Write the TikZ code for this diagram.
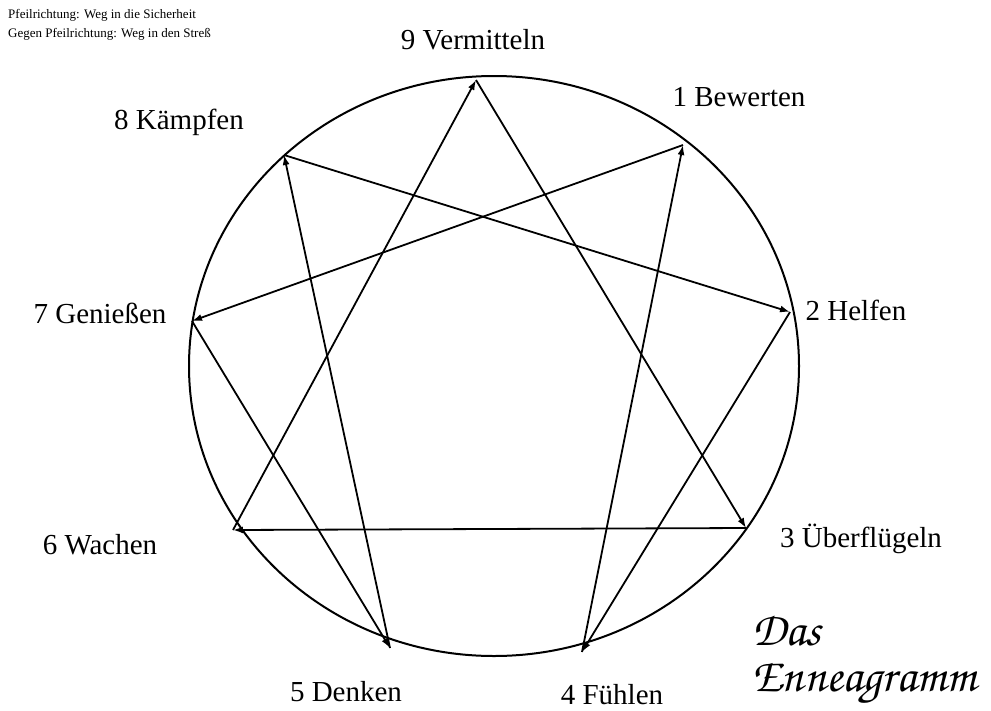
\documentclass[tikz,border=0pt]{standalone}
\usepackage{fontspec}
\setmainfont{Liberation Serif}
\usetikzlibrary{arrows.meta}
\tikzset{
  en_lbl/.style={font=\fontsize{29}{32}\selectfont, inner sep=0pt},
  en_note/.style={font=\fontsize{13}{15}\selectfont, anchor=west, inner sep=0pt},
  en_title/.style={font=\usefont{T1}{pzc}{mb}{it}\fontsize{48}{50}\selectfont, anchor=west, inner sep=0pt},
  en_ring/.style={line width=2pt},
  en_arr/.style={-{Latex[length=10pt,width=7pt]}, line width=1.8pt},
}

\begin{document}
\begin{tikzpicture}[x=1pt,y=-1pt]
\useasboundingbox (0,0) rectangle (991,710);

% legend
\node[en_note] (n1) at (8,15) {Pfeilrichtung: Weg in die Sicherheit};
\node[en_note] (n2) at (8,34) {Gegen Pfeilrichtung: Weg in den Streß};

% ring
\draw[en_ring] (494,366) ellipse [x radius=305pt, y radius=290pt];

% points on the ring
\coordinate (p9) at (476,80);
\coordinate (p1) at (683,145);
\coordinate (p2) at (790,312);
\coordinate (p3) at (746,528);
\coordinate (p4) at (582,652);
\coordinate (p5) at (390,648);
\coordinate (p6) at (233,530);
\coordinate (p7) at (192,321);
\coordinate (p8) at (284,155);

% labels
\node[en_lbl] (l9) at (473,40)  {9 Vermitteln};
\node[en_lbl] (l1) at (739,97)  {1 Bewerten};
\node[en_lbl] (l2) at (856,310) {2 Helfen};
\node[en_lbl] (l3) at (861,539) {3 Überflügeln};
\node[en_lbl] (l4) at (612,695) {4 Fühlen};
\node[en_lbl] (l5) at (346,692) {5 Denken};
\node[en_lbl] (l6) at (100,545) {6 Wachen};
\node[en_lbl] (l7) at (100,313) {7 Genießen};
\node[en_lbl] (l8) at (179,122) {8 Kämpfen};

% triangle
\draw[en_arr] (p9) -- (p3);
\draw[en_arr] (p3) -- (p6);
\draw[en_arr] (p6) -- (p9);

% hexad
\draw[en_arr] (p1) -- (p7);
\draw[en_arr] (p7) -- (p5);
\draw[en_arr] (p5) -- (p8);
\draw[en_arr] (p8) -- (p2);
\draw[en_arr] (p2) -- (p4);
\draw[en_arr] (p4) -- (p1);

% title
\node[en_title] (t1) at (752,630) {Das};
\node[en_title] (t2) at (752,684) {Enneagramm};

\end{tikzpicture}
\end{document}
